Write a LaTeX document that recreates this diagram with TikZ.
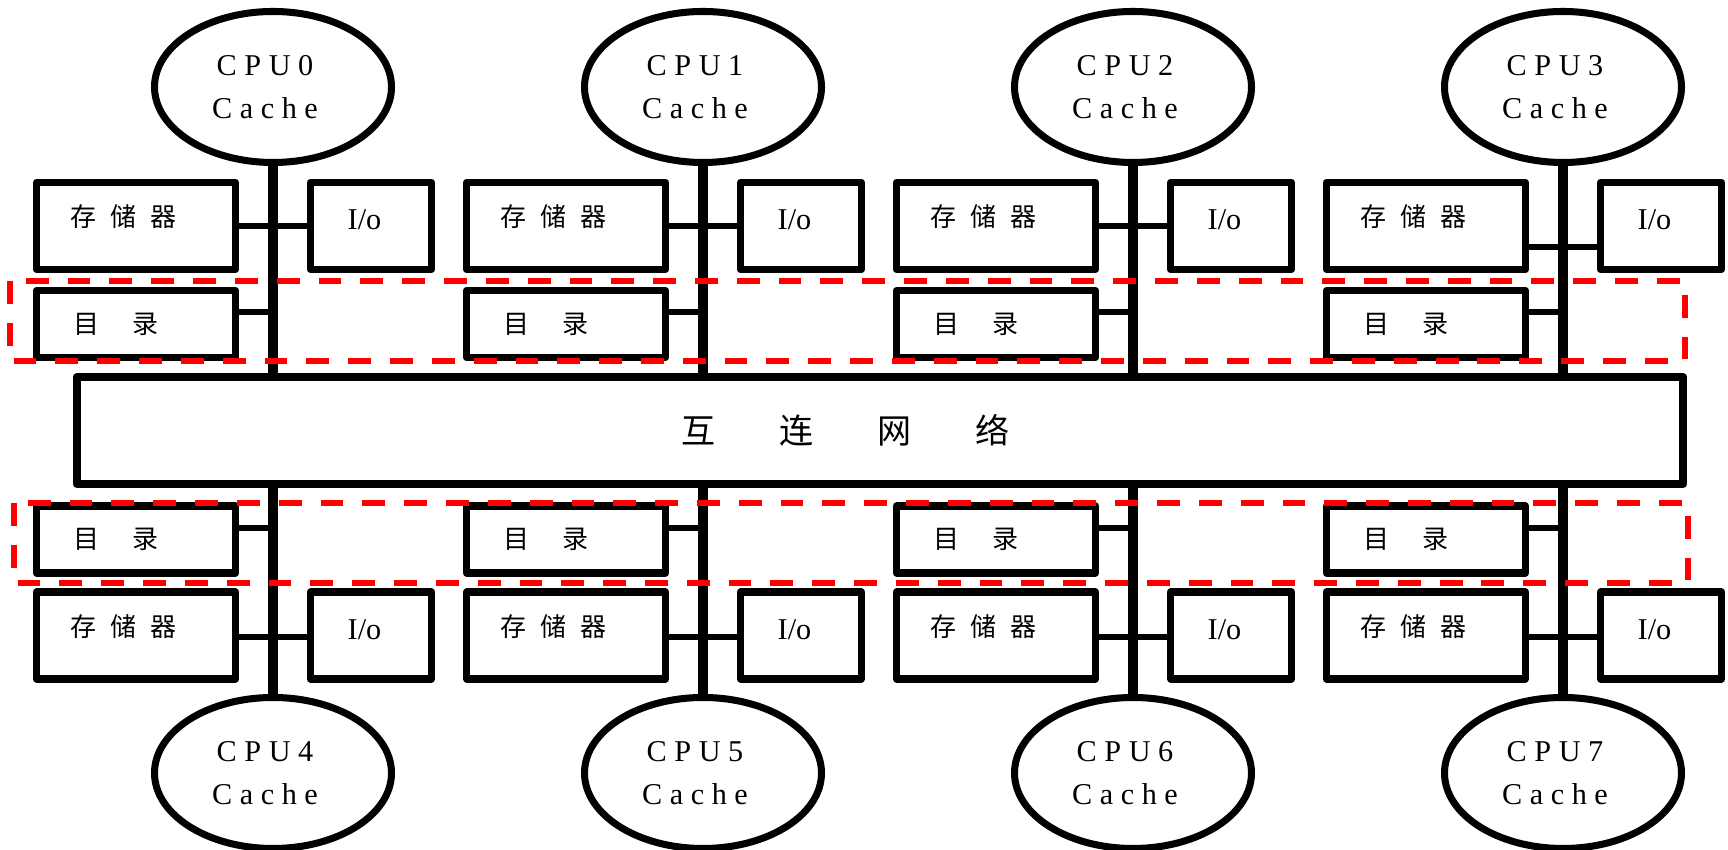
\documentclass[tikz,border=0pt]{standalone}
\usepackage{fontspec}
\setmainfont{Liberation Serif}
\newfontfamily\cjk{Noto Sans CJK SC}
\usetikzlibrary{shapes.geometric}

\begin{document}
\begin{tikzpicture}[line join=round,
	cpu/.style={draw,ellipse,line width=2pt,minimum width=2.37cm,minimum height=1.51cm,inner sep=0pt},
	cputext/.style={xshift=-0.8mm,align=center,font=\fontsize{8.6}{12.2}\selectfont},
	box/.style={draw,rectangle,line width=2pt,inner sep=0pt},
	membox/.style={box,minimum width=1.99cm,minimum height=0.87cm,
		label={[xshift=-1.2mm,yshift=0.9mm,font=\cjk\fontsize{7.4}{8}\selectfont]center:存\hspace{1.4mm}储\hspace{1.4mm}器}},
	dirbox/.style={box,minimum width=1.99cm,minimum height=0.67cm,
		label={[xshift=-2mm,font=\cjk\fontsize{7.4}{8}\selectfont]center:目\hspace{3.25mm}录}},
	iobox/.style={box,minimum width=1.21cm,minimum height=0.87cm,
		label={[xshift=-0.65mm,yshift=0.6mm,font=\fontsize{8.6}{10}\selectfont]center:I/o}},
	bus/.style={line width=2.6pt},
	link/.style={line width=1.7pt},
	region/.style={red,line width=1.7pt,dash pattern=on 6.5pt off 5.4pt}]
	\useasboundingbox (0,0) rectangle (17.28,-8.5);
	\node[box,minimum width=16.065cm,minimum height=1.07cm,line width=2.2pt,
		label={[xshift=-3.45mm,font=\cjk\fontsize{9.7}{11}\selectfont]center:互\hspace{6.4mm}连\hspace{6.4mm}网\hspace{6.4mm}络}] (net) at (8.80,-4.305) {};
	\foreach \i/\dy in {0/0,1/0,2/0,3/0.21}{
		\pgfmathsetmacro\bx{2.73+4.30*\i}
		\pgfmathtruncatemacro\j{\i+4}
		% upper half
		\node[cpu,label={[cputext]center:C P U \i\\C a c h e}] (cpu\i) at (\bx,-0.87) {};
		\node[membox] (mem\i) at (\bx-1.37,-2.26) {};
		\node[iobox] (io\i) at (\bx+0.98,-2.26) {};
		\node[dirbox] (dir\i) at (\bx-1.37,-3.24) {};
		% lower half
		\node[dirbox] (dir\j) at (\bx-1.37,-5.395) {};
		\node[membox] (mem\j) at (\bx-1.37,-6.355) {};
		\node[iobox] (io\j) at (\bx+0.98,-6.355) {};
		\node[cpu,label={[cputext]center:C P U \j\\C a c h e}] (cpu\j) at (\bx,-7.73) {};
		\draw[link] ([yshift=-\dy cm]mem\i.east) -- ([yshift=-\dy cm]io\i.west);
		\draw[link] ([yshift=-0.015cm]mem\j.east) -- ([yshift=-0.015cm]io\j.west);
		\coordinate (d\i) at ([yshift=1.2mm]dir\i.east);
		\coordinate (d\j) at ([yshift=1.15mm]dir\j.east);
		\draw[link] (d\i) -- (d\i -| cpu\i.south);
		\draw[link] (d\j) -- (d\j -| cpu\j.north);
		\draw[bus] (cpu\i.south) -- (cpu\i.south |- net.north);
		\draw[bus] (cpu\j.north) -- (cpu\j.north |- net.south);
	}
	\draw[region] (0.10,-2.81) rectangle (16.85,-3.61);
	\draw[region] (0.14,-5.03) rectangle (16.88,-5.83);
\end{tikzpicture}
\end{document}
